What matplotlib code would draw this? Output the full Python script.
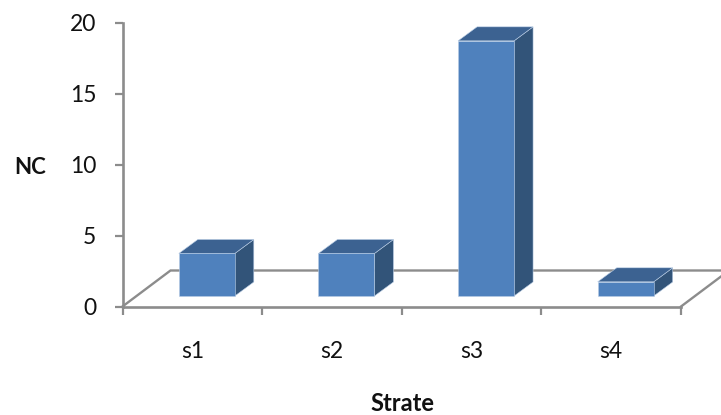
import matplotlib
matplotlib.use("Agg")
import matplotlib.pyplot as plt
from matplotlib.patches import Polygon

plt.rcParams['font.family'] = ['Lato', 'DejaVu Sans']

categories = ["s1", "s2", "s3", "s4"]
values = [3, 3, 18, 1]
y_ticks = [0, 5, 10, 15, 20]

W, H = 721, 415
DPI = 100
LEFT, RIGHT, BOTTOM, TOP = 122.5, 681.0, 306.5, 23.0  # plot box, pixels from top-left

FRONT = "#4F81BD"
TOP_FACE = "#3C6291"
SIDE = "#325479"
EDGE = "#B9CDE5"
AXIS = "#8C8C8C"

fig = plt.figure(figsize=(W / DPI, H / DPI), dpi=DPI, facecolor="white")
ax = fig.add_axes([LEFT / W, 1 - BOTTOM / H, (RIGHT - LEFT) / W, (BOTTOM - TOP) / H])
ax.set_xlim(0, len(categories))
ax.set_ylim(y_ticks[0], y_ticks[-1])
ax.patch.set_visible(False)

# pseudo-3D offsets, converted from pixels to data units
px_x = len(categories) / (RIGHT - LEFT)
px_y = (y_ticks[-1] - y_ticks[0]) / (BOTTOM - TOP)
floor_dx, floor_dy = 48 * px_x, 36 * px_y
bar_lift_x, bar_lift_y = 14.5 * px_x, 10.5 * px_y
depth_x, depth_y = 19 * px_x, 14 * px_y
bar_w = 56 * px_x

# floor outline behind the bars
ax.plot([0, floor_dx, 4 + floor_dx, 4], [0, floor_dy, floor_dy, 0],
        color=AXIS, lw=1.7, clip_on=False, zorder=1, solid_joinstyle="miter")

centers = [i + 0.5 for i in range(len(categories))]
for c, v in zip(centers, values):
    x0 = c + bar_lift_x - bar_w / 2
    x1 = x0 + bar_w
    y0 = bar_lift_y
    y1 = y0 + v
    ax.add_patch(Polygon([(x1, y0), (x1 + depth_x, y0 + depth_y), (x1 + depth_x, y1 + depth_y), (x1, y1)],
                         closed=True, fc=SIDE, ec=EDGE, lw=0.4, zorder=3, clip_on=False))
    ax.add_patch(Polygon([(x0, y1), (x1, y1), (x1 + depth_x, y1 + depth_y), (x0 + depth_x, y1 + depth_y)],
                         closed=True, fc=TOP_FACE, ec=EDGE, lw=0.4, zorder=3, clip_on=False))
    ax.bar(x0, v, width=bar_w, bottom=y0, align="edge", color=FRONT,
           edgecolor=EDGE, linewidth=0.4, zorder=4, clip_on=False)

for side in ("top", "right"):
    ax.spines[side].set_visible(False)
for side in ("left", "bottom"):
    ax.spines[side].set_color(AXIS)
    ax.spines[side].set_linewidth(1.9)
    ax.spines[side].set_zorder(2)

ax.set_yticks(y_ticks)
ax.set_xticks(range(len(categories) + 1))
ax.set_xticklabels([])
ax.set_xticks(centers, categories, minor=True)
ax.tick_params(axis="y", length=6, width=1.6, color=AXIS, pad=13, labelsize=16.5, labelcolor="#111111")
ax.tick_params(axis="x", which="major", length=6, width=1.6, color=AXIS)
ax.tick_params(axis="x", which="minor", length=0, pad=25, labelsize=16.5, labelcolor="#111111")

fig.text(30.5 / W, 1 - 167 / H, "NC", ha="center", va="center", fontsize=16, fontweight="bold", color="#111111")
fig.text(402.5 / W, 1 - 403 / H, "Strate", ha="center", va="center", fontsize=17, fontweight="bold", color="#111111")

fig.savefig("out.png", dpi=DPI)
